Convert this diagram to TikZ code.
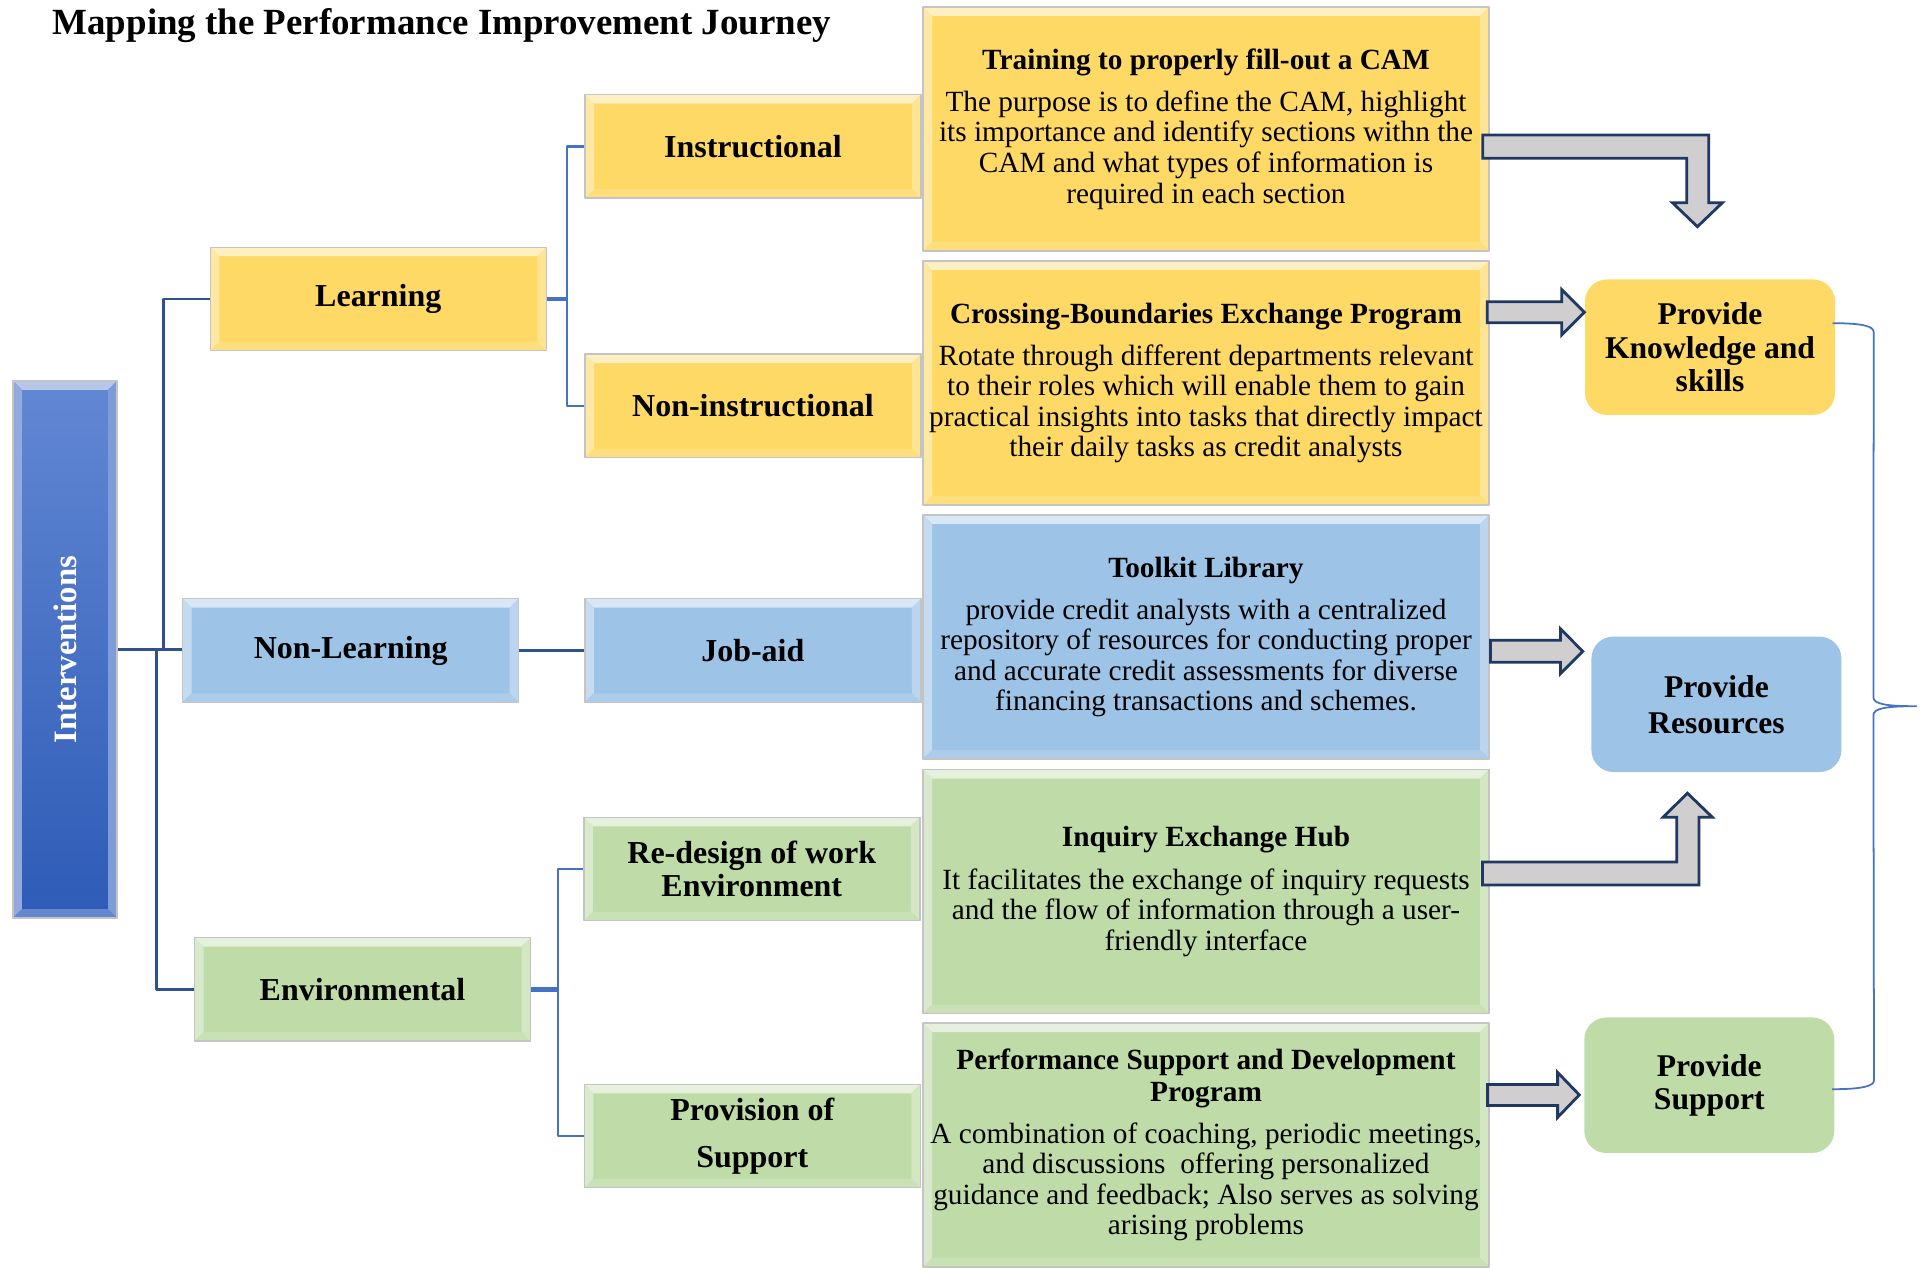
\documentclass[tikz,border=0pt]{standalone}
\usepackage{fontspec}
\setmainfont{Liberation Serif}
\usepackage{graphicx}
\usetikzlibrary{calc, positioning}
\definecolor{gold1}{HTML}{FFD966}
\definecolor{blue1}{HTML}{9DC3E6}
\definecolor{green1}{HTML}{BFDCA8}
\definecolor{blue4}{HTML}{4472C4}
\definecolor{blue5}{HTML}{2F528F}
\definecolor{int1}{HTML}{6288D4}
\definecolor{int2}{HTML}{2E5BB6}
\definecolor{int3}{HTML}{4A72C8}
\definecolor{navy1}{HTML}{1F3864}
\definecolor{grey1}{HTML}{D0CECE}
\definecolor{edge1}{HTML}{C4C4C4}
\newcommand{\bevelfill}[1]{%
	\fill[#1!40!white] (path picture bounding box.north west) -- (path picture bounding box.north east) -- ([shift={(-0.09,-0.09)}]path picture bounding box.north east) -- ([shift={(0.09,-0.09)}]path picture bounding box.north west) -- cycle;
	\fill[#1!60!white] (path picture bounding box.north west) -- ([shift={(0.09,-0.09)}]path picture bounding box.north west) -- ([shift={(0.09,0.09)}]path picture bounding box.south west) -- (path picture bounding box.south west) -- cycle;
	\fill[#1!70!white] (path picture bounding box.north east) -- ([shift={(-0.09,-0.09)}]path picture bounding box.north east) -- ([shift={(-0.09,0.09)}]path picture bounding box.south east) -- (path picture bounding box.south east) -- cycle;
	\fill[#1!85!white] (path picture bounding box.south west) -- ([shift={(0.09,0.09)}]path picture bounding box.south west) -- ([shift={(-0.09,0.09)}]path picture bounding box.south east) -- (path picture bounding box.south east) -- cycle;
}

\begin{document}
\begin{tikzpicture}[line join=round,
	every node/.style={font=\fontsize{9.1}{9.4}\selectfont\bfseries, align=center, inner sep=0pt},
	lvl/.style={draw=edge1, line width=0.4pt, fill=#1, path picture={\bevelfill{#1}}, minimum width=3.36cm, minimum height=1.035cm},
	desc/.style={lvl=#1, minimum width=5.66cm, minimum height=2.44cm, font=\fontsize{8.34}{8.68}\selectfont},
	goal/.style={fill=#1, rounded corners=0.22cm, minimum width=2.5cm, minimum height=1.355cm, font=\fontsize{9}{9.4}\selectfont\bfseries},
	conn/.style={draw=blue4, line width=0.7pt},
	trunk/.style={draw=blue5, line width=0.85pt},
	blockarr/.style={fill=grey1, draw=navy1, line width=0.8pt, line join=miter}]
	\useasboundingbox (0,0) rectangle (19.23,-12.68);
	\node[anchor=base west, font=\fontsize{10.5}{12}\selectfont\bfseries] (title) at (0.52,-0.345) {Mapping the Performance Improvement Journey};

	\node[draw=edge1, line width=0.4pt, top color=int1, bottom color=int2, path picture={\bevelfill{int3}}, minimum width=1.04cm, minimum height=5.37cm, text=white, font=\fontsize{9.3}{9.6}\selectfont\bfseries] (int) at (0.65,-6.495) {\rotatebox{90}{Interventions}};

	\node[lvl=gold1] (learn) at (3.783,-2.99) {Learning};
	\node[lvl=gold1] (instr) at (7.53,-1.463) {Instructional};
	\node[lvl=gold1] (noninstr) at (7.53,-4.058) {Non-instructional};
	\node[lvl=blue1] (nonlearn) at (3.507,-6.505) {Non-Learning};
	\node[lvl=blue1] (jobaid) at (7.528,-6.505) {\raisebox{-3pt}{Job-aid}};
	\node[lvl=green1] (env) at (3.625,-9.894) {Environmental};
	\node[lvl=green1] (redesign) at (7.518,-8.69) {Re-design of work\\Environment};
	\node[lvl=green1] (provision) at (7.523,-11.36) {Provision of\\[4pt]Support};

	\node[desc=gold1] (train) at (12.06,-1.29) {\textbf{Training to properly fill-out a CAM}\\[3.3pt]The purpose is to define the CAM, highlight\\its importance and identify sections withn the\\CAM and what types of information is\\required in each section};
	\node[desc=gold1] (cross) at (12.06,-3.83) {\textbf{Crossing-Boundaries Exchange Program}\\[3.3pt]Rotate through different departments relevant\\to their roles which will enable them to gain\\practical insights into tasks that directly impact\\their daily tasks as credit analysts};
	\node[desc=blue1] (tool) at (12.06,-6.37) {\textbf{Toolkit Library}\\[3.3pt]provide credit analysts with a centralized\\repository of resources for conducting proper\\and accurate credit assessments for diverse\\financing transactions and schemes.};
	\node[desc=green1] (inq) at (12.06,-8.915) {\textbf{Inquiry Exchange Hub}\\[3.3pt]It facilitates the exchange of inquiry requests\\and the flow of information through a user-\\friendly interface};
	\node[desc=green1] (perf) at (12.06,-11.45) {\textbf{Performance Support and Development}\\[0.4pt]\textbf{Program}\\[3.3pt]A combination of coaching, periodic meetings,\\and discussions\ \ offering personalized\\guidance and feedback; Also serves as solving\\arising problems};

	\node[goal=gold1] (know) at (17.10,-3.472) {Provide\\Knowledge and\\skills};
	\node[goal=blue1] (res) at (17.164,-7.043) {Provide\\[0.8pt]Resources};
	\node[goal=green1] (supp) at (17.093,-10.852) {Provide\\Support};

	\draw[trunk] (int.east) -- (int.east -| nonlearn.west);
	\draw[trunk] ([xshift=0.46cm]int.east) |- (learn.west);
	\draw[trunk] ([xshift=0.39cm]int.east) |- (env.west);
	\draw[trunk] (nonlearn.east) -- (jobaid.west);
	\coordinate (lbr) at ([xshift=0.2cm]learn.east);
	\draw[conn, line width=1.4pt] (learn.east) -- (lbr);
	\draw[conn] (lbr) |- (instr.west);
	\draw[conn] (lbr) |- (noninstr.west);
	\coordinate (ebr) at ([xshift=0.27cm]env.east);
	\draw[conn, line width=1.4pt] (env.east) -- (ebr);
	\draw[conn] (ebr) |- (redesign.west);
	\draw[conn] (ebr) |- (provision.west);

	\draw[blockarr] ([shift={(-0.07,-0.06)}]train.east) -- ++(2.26,0) -- ++(0,-0.677) -- ++(0.137,0) -- ++(-0.25,-0.24) -- ++(-0.25,0.24) -- ++(0.143,0) -- ++(0,0.444) -- ++(-2.04,0) -- cycle;
	\draw[blockarr] ([yshift=0.35cm]know.west) -- ++(-0.225,0.225) -- ++(0,-0.12) -- ++(-0.745,0) -- ++(0,-0.21) -- ++(0.745,0) -- ++(0,-0.12) -- cycle;
	\draw[blockarr] ([shift={(-0.08,0.53)}]res.west) -- ++(-0.223,0.225) -- ++(0,-0.115) -- ++(-0.70,0) -- ++(0,-0.22) -- ++(0.70,0) -- ++(0,-0.115) -- cycle;
	\draw[blockarr] ([shift={(-0.073,0.295)}]inq.east) -- ++(1.943,0) -- ++(0,0.447) -- ++(-0.137,0) -- ++(0.244,0.241) -- ++(0.25,-0.241) -- ++(-0.134,0) -- ++(0,-0.677) -- ++(-2.166,0) -- cycle;
	\draw[blockarr] ([shift={(-0.043,-0.097)}]supp.west) -- ++(-0.217,0.225) -- ++(0,-0.12) -- ++(-0.70,0) -- ++(0,-0.21) -- ++(0.70,0) -- ++(0,-0.12) -- cycle;

	\coordinate (bt) at ([shift={(-0.03,0.24)}]know.east);
	\coordinate (bb) at ([shift={(-0.03,-0.04)}]supp.east);
	\coordinate (bm) at ($(bt)!0.5!(bb)+(0.84,0)$);
	\draw[blue4, line width=0.5pt] (bt) .. controls +(0.3,0) and +(0,0.06) .. ([shift={(0.41,-0.09)}]bt) -- ([shift={(-0.43,0.09)}]bm) .. controls +(0,-0.07) and +(-0.3,0) .. (bm) .. controls +(-0.3,0) and +(0,0.07) .. ([shift={(-0.43,-0.09)}]bm) -- ([shift={(0.42,0.09)}]bb) .. controls +(0,-0.06) and +(0.3,0) .. (bb);
\end{tikzpicture}
\end{document}
